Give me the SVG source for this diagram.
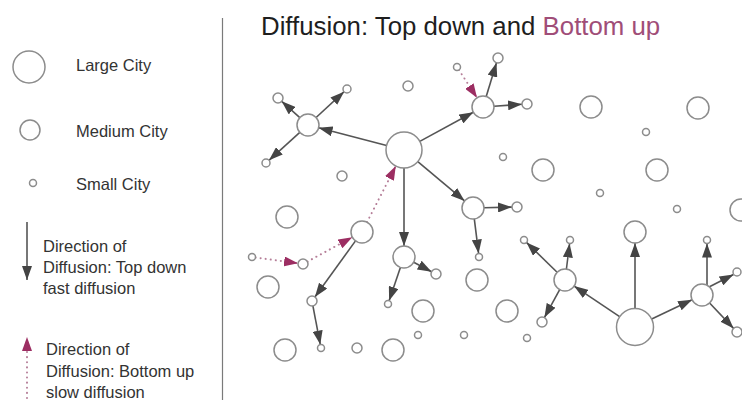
<svg xmlns="http://www.w3.org/2000/svg" width="742" height="400" viewBox="0 0 742 400">
<style>
  text { font-family: "Liberation Sans", Arial, sans-serif; fill: #2a2a2a; }
  .lg { font-size: 16.5px; fill: #333; }
  .title { font-size: 25.8px; fill: #1e1e1e; }
  .purple { fill: #a04d78; }
  circle { fill: #fff; stroke: #8c8c8c; stroke-width: 1.5; }
  .arr { stroke: #555; stroke-width: 1.6; fill: none; marker-end: url(#ah); }
  .dot { stroke: #b57e98; stroke-width: 2; stroke-dasharray: 0.1 5; stroke-linecap: round; fill: none; marker-end: url(#ap); }
  .sep { stroke: #7a7a7a; stroke-width: 1.2; }
</style>
<defs>
  <marker id="ah" markerUnits="userSpaceOnUse" markerWidth="14" markerHeight="10" viewBox="0 0 14 10" refX="14" refY="5" orient="auto">
    <path d="M0,0 L14,5 L0,10 z" fill="#444"/>
  </marker>
  <marker id="ap" markerUnits="userSpaceOnUse" markerWidth="14" markerHeight="10" viewBox="0 0 14 10" refX="14" refY="5" orient="auto">
    <path d="M0,0 L14,5 L0,10 z" fill="#9c2e62"/>
  </marker>
</defs>

<rect width="742" height="400" fill="#fff"/>

<!-- Title -->
<text class="title" x="261" y="35">Diffusion: Top down and <tspan class="purple">Bottom up</tspan></text>

<!-- Legend -->
<g id="legend">
  <circle cx="29" cy="67" r="16"/>
  <text class="lg" x="76" y="71">Large City</text>
  <circle cx="30" cy="130" r="10"/>
  <text class="lg" x="76" y="137">Medium City</text>
  <circle cx="33" cy="183" r="3.5"/>
  <text class="lg" x="76" y="190">Small City</text>
  <line x1="27" y1="222" x2="27" y2="280" stroke="#555" stroke-width="1.6" marker-end="url(#ah)"/>
  <text class="lg" x="43" y="252">Direction of</text>
  <text class="lg" x="43" y="273">Diffusion: Top down</text>
  <text class="lg" x="43" y="294">fast diffusion</text>
  <line x1="27" y1="398" x2="27" y2="337" class="dot"/>
  <text class="lg" x="46" y="355">Direction of</text>
  <text class="lg" x="46" y="377">Diffusion: Bottom up</text>
  <text class="lg" x="46" y="398">slow diffusion</text>
</g>
<line class="sep" x1="222.5" y1="18" x2="222.5" y2="400"/>

<!-- Connectors -->
<g id="connectors">
  <line class="arr" x1="386.6" y1="145.5" x2="318.6" y2="127.8"/>
  <line class="arr" x1="419.8" y1="141.4" x2="473.3" y2="112.3"/>
  <line class="arr" x1="404" y1="168" x2="404" y2="246"/>
  <line class="arr" x1="417.8" y1="161.6" x2="464.6" y2="200.9"/>
  <line class="arr" x1="299.8" y1="117.7" x2="281.7" y2="101.3"/>
  <line class="arr" x1="316.1" y1="117.5" x2="344.1" y2="91.7"/>
  <line class="arr" x1="299.8" y1="132.4" x2="269" y2="160.3"/>
  <line class="arr" x1="486.2" y1="96.5" x2="496.5" y2="62.8"/>
  <line class="arr" x1="494" y1="106.3" x2="522" y2="104.3"/>
  <line class="arr" x1="484" y1="207.8" x2="512" y2="207.1"/>
  <line class="arr" x1="474.3" y1="218.9" x2="478.6" y2="253.5"/>
  <line class="arr" x1="413.7" y1="262.2" x2="431.6" y2="271.7"/>
  <line class="arr" x1="400.4" y1="267.4" x2="389.1" y2="300.7"/>
  <line class="arr" x1="355.5" y1="240.9" x2="314.9" y2="297"/>
  <line class="arr" x1="312.9" y1="305.9" x2="320.3" y2="344.6"/>
  <line class="arr" x1="635" y1="308.5" x2="635" y2="243"/>
  <line class="arr" x1="619.6" y1="316.7" x2="574.1" y2="286.1"/>
  <line class="arr" x1="651.7" y1="319" x2="692.1" y2="299.7"/>
  <line class="arr" x1="557.1" y1="272.3" x2="526.5" y2="242.4"/>
  <line class="arr" x1="566.4" y1="269.1" x2="569.6" y2="243.5"/>
  <line class="arr" x1="559.7" y1="289.6" x2="544.4" y2="317.6"/>
  <line class="arr" x1="707" y1="285" x2="707" y2="243.5"/>
  <line class="arr" x1="709" y1="287" x2="733.5" y2="274.5"/>
  <line class="arr" x1="709.6" y1="303" x2="733.6" y2="328.4"/>
  <line class="dot" x1="255.5" y1="257.5" x2="298" y2="263.3"/>
  <line class="dot" x1="307.4" y1="261.6" x2="352.3" y2="237.2"/>
  <line class="dot" x1="367" y1="222.2" x2="395.8" y2="166"/>
  <line class="dot" x1="458.9" y1="69.9" x2="477" y2="97.8"/>
</g>

<!-- Cities -->
<g id="hub-a"><circle cx="404" cy="150" r="18"/></g>
<g id="hub-b"><circle cx="635" cy="327" r="18.5"/></g>
<g id="m1"><circle cx="308" cy="125" r="11"/></g>
<g id="m2"><circle cx="483" cy="107" r="11"/></g>
<g id="m3"><circle cx="404" cy="257" r="11"/></g>
<g id="m4"><circle cx="473" cy="208" r="11"/></g>
<g id="m5"><circle cx="362" cy="232" r="11"/></g>
<g id="m6"><circle cx="287" cy="217" r="11"/></g>
<g id="m7"><circle cx="268" cy="287" r="11"/></g>
<g id="m8"><circle cx="285" cy="350" r="11"/></g>
<g id="m9"><circle cx="393" cy="350" r="11"/></g>
<g id="m10"><circle cx="423" cy="311" r="11"/></g>
<g id="m11"><circle cx="477" cy="280" r="11"/></g>
<g id="m12"><circle cx="507" cy="311" r="11"/></g>
<g id="m13"><circle cx="543" cy="170" r="11"/></g>
<g id="m14"><circle cx="591" cy="107" r="11"/></g>
<g id="m15"><circle cx="698" cy="108" r="11"/></g>
<g id="m16"><circle cx="657" cy="170" r="11"/></g>
<g id="m17"><circle cx="741" cy="210" r="11"/></g>
<g id="m18"><circle cx="635" cy="232" r="11"/></g>
<g id="m19"><circle cx="565" cy="280" r="11"/></g>
<g id="m20"><circle cx="702" cy="295" r="11"/></g>
<g id="s1"><circle cx="278" cy="98" r="5"/></g>
<g id="s2"><circle cx="347" cy="89" r="4"/></g>
<g id="s3"><circle cx="266" cy="163" r="4"/></g>
<g id="s4"><circle cx="408" cy="86" r="5"/></g>
<g id="s5"><circle cx="342" cy="176" r="5"/></g>
<g id="s6"><circle cx="457" cy="67" r="3.5"/></g>
<g id="s7"><circle cx="498" cy="58" r="5"/></g>
<g id="s8"><circle cx="527" cy="104" r="5"/></g>
<g id="s9"><circle cx="517" cy="207" r="5"/></g>
<g id="s10"><circle cx="479" cy="257" r="3.5"/></g>
<g id="s11"><circle cx="436" cy="274" r="5"/></g>
<g id="s12"><circle cx="388" cy="304" r="3.5"/></g>
<g id="s13"><circle cx="252" cy="257" r="3.5"/></g>
<g id="s14"><circle cx="303" cy="264" r="5"/></g>
<g id="s15"><circle cx="312" cy="301" r="5"/></g>
<g id="s16"><circle cx="321" cy="348" r="3.5"/></g>
<g id="s17"><circle cx="357" cy="348" r="5"/></g>
<g id="s18"><circle cx="418" cy="335" r="3.5"/></g>
<g id="s19"><circle cx="464" cy="335" r="3.5"/></g>
<g id="s20"><circle cx="503" cy="157" r="3.5"/></g>
<g id="s21"><circle cx="646" cy="132" r="3.5"/></g>
<g id="s22"><circle cx="600" cy="193" r="3.5"/></g>
<g id="s23"><circle cx="677" cy="209" r="3.5"/></g>
<g id="s24"><circle cx="524" cy="240" r="3.5"/></g>
<g id="s25"><circle cx="570" cy="240" r="3.5"/></g>
<g id="s26"><circle cx="707" cy="240" r="3.5"/></g>
<g id="s27"><circle cx="737" cy="272" r="4"/></g>
<g id="s28"><circle cx="737" cy="332" r="5"/></g>
<g id="s29"><circle cx="542" cy="322" r="5"/></g>
<g id="s30"><circle cx="527" cy="338" r="3.5"/></g>
</svg>
